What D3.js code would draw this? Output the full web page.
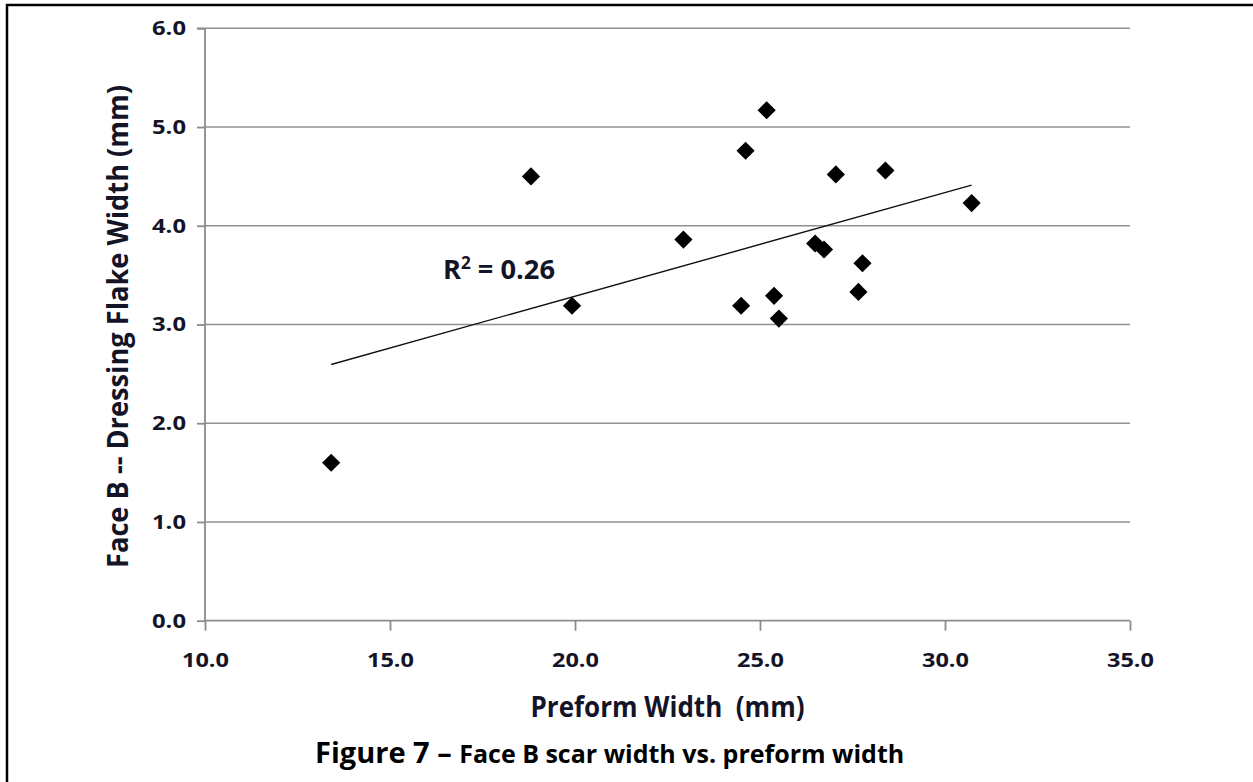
<!DOCTYPE html>
<html><head><meta charset="utf-8">
<script src="https://cdn.jsdelivr.net/npm/d3@7"></script>
<style>body{margin:0;background:#fff} svg{display:block} text{white-space:pre}</style>
</head><body><svg id="c" width="1253" height="782"></svg>
<script>
// Data
const preformWidth = [13.41, 18.81, 19.92, 22.93, 24.49, 24.61, 25.18, 25.38, 25.51, 26.49, 26.73, 27.05, 27.66, 27.77, 28.39, 30.72];
const scarWidth    = [1.60, 4.50, 3.19, 3.86, 3.19, 4.76, 5.17, 3.29, 3.06, 3.82, 3.76, 4.52, 3.33, 3.62, 4.56, 4.23];
const xTicks = [10, 15, 20, 25, 30, 35];
const yTicks = [0, 1, 2, 3, 4, 5, 6];
const xTitle = "Preform Width  (mm)";
const yTitle = "Face B -- Dressing Flake Width (mm)";
const r2Value = "0.26";
const captionMain = "Figure 7 \u2013 ";
const captionRest = "Face B scar width vs. preform width";

const svg = d3.select("#c");
const FONT = "'Open Sans', sans-serif";
const x = d3.scaleLinear().domain([10, 35]).range([205, 1130]);
const y = d3.scaleLinear().domain([0, 6]).range([620.7, 28.3]);
const axisColor = "#8c8c8c";

// Frame
svg.append("line").attr("x1", 6).attr("x2", 1253).attr("y1", 5).attr("y2", 5).attr("stroke", "#000").attr("stroke-width", 2.5);
svg.append("line").attr("x1", 7).attr("x2", 7).attr("y1", 4).attr("y2", 782).attr("stroke", "#000").attr("stroke-width", 2.5);

// Gridlines
svg.append("g").selectAll("line").data(yTicks.filter(d => d > 0)).join("line")
  .attr("x1", x(10)).attr("x2", x(35))
  .attr("y1", d => y(d)).attr("y2", d => y(d))
  .attr("stroke", "#909090").attr("stroke-width", 1.6);

// Y axis
const yAxis = svg.append("g").attr("transform", `translate(${x(10)},0)`)
  .call(d3.axisLeft(y).tickValues(yTicks).tickFormat(d3.format(".1f")).tickSize(8).tickPadding(11));
// X axis
const xAxis = svg.append("g").attr("transform", `translate(0,${y(0)})`)
  .call(d3.axisBottom(x).tickValues(xTicks).tickFormat(d3.format(".1f")).tickSize(10).tickPadding(23));

[yAxis, xAxis].forEach(g => {
  g.select(".domain").attr("stroke", axisColor).attr("stroke-width", 1.8);
  g.selectAll(".tick line").attr("stroke", axisColor).attr("stroke-width", 1.8);
  g.selectAll(".tick text").attr("font-family", FONT).attr("font-weight", 700)
    .attr("font-size", 19).attr("fill", "#141428")
    .attr("textLength", function() { return this.textContent.length === 3 ? 34 : 47; })
    .attr("lengthAdjust", "spacingAndGlyphs");
});
yAxis.select(".domain").attr("d", `M-8,${y(6)}H0V${y(0)}`);
xAxis.select(".domain").attr("d", `M${x(10)},0H${x(35)}`);
yAxis.selectAll(".tick text").attr("dy", "0.34em");
xAxis.selectAll(".tick text").attr("dy", "0.71em");

// Trendline (least squares fit)
const n = preformWidth.length;
const mx = d3.mean(preformWidth), my = d3.mean(scarWidth);
let sxy = 0, sxx = 0;
for (let i = 0; i < n; i++) { sxy += (preformWidth[i] - mx) * (scarWidth[i] - my); sxx += (preformWidth[i] - mx) ** 2; }
const slope = sxy / sxx, intercept = my - slope * mx;
const [xmin, xmax] = d3.extent(preformWidth);
svg.append("line")
  .attr("x1", x(xmin)).attr("y1", y(intercept + slope * xmin))
  .attr("x2", x(xmax)).attr("y2", y(intercept + slope * xmax))
  .attr("stroke", "#111").attr("stroke-width", 1.4);

// Points
const diamond = d3.symbol().type(d3.symbolSquare).size(165);
svg.append("g").selectAll("path").data(preformWidth.map((d, i) => [d, scarWidth[i]])).join("path")
  .attr("d", diamond)
  .attr("transform", d => `translate(${x(d[0])},${y(d[1])}) rotate(45)`)
  .attr("fill", "#000");

// R^2 label
const r2 = svg.append("text").attr("x", 443).attr("y", 279)
  .attr("font-family", FONT).attr("font-weight", 700).attr("font-size", 27).attr("fill", "#141428")
  .attr("textLength", 112).attr("lengthAdjust", "spacingAndGlyphs");
r2.append("tspan").text("R");
r2.append("tspan").attr("font-size", 17).attr("dy", -10).text("2");
r2.append("tspan").attr("dy", 10).text(" = " + r2Value);

// Axis titles
svg.append("text").attr("x", (205 + 1130) / 2).attr("y", 717).attr("text-anchor", "middle")
  .attr("font-family", FONT).attr("font-weight", 700).attr("font-size", 28).attr("fill", "#141428")
  .attr("textLength", 274).attr("lengthAdjust", "spacingAndGlyphs").text(xTitle);
svg.append("text").attr("transform", `translate(128,${(85 + 568) / 2}) rotate(-90)`).attr("text-anchor", "middle")
  .attr("font-family", FONT).attr("font-weight", 700).attr("font-size", 28).attr("fill", "#141428")
  .attr("textLength", 483).attr("lengthAdjust", "spacingAndGlyphs").text(yTitle);

// Caption
const cap = svg.append("text").attr("x", 315).attr("y", 763)
  .attr("font-family", FONT).attr("font-weight", 700).attr("fill", "#000");
cap.append("tspan").attr("font-size", 29).text(captionMain);
cap.append("tspan").attr("font-size", 25).text(captionRest);
</script></body></html>
